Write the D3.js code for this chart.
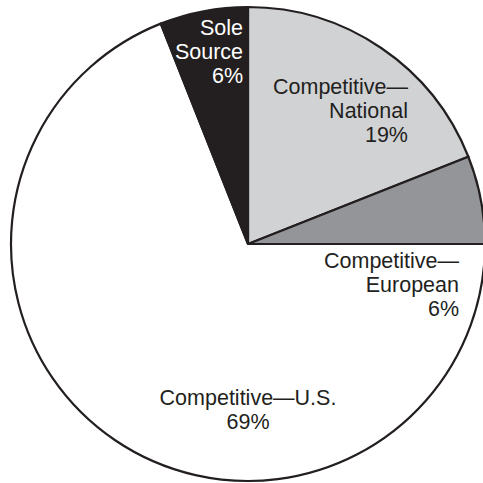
<!DOCTYPE html>
<html>
<head>
<meta charset="utf-8">
<script src="https://d3js.org/d3.v7.min.js"></script>
<style>
  html, body { margin: 0; padding: 0; background: #fff; }
  svg { display: block; }
</style>
</head>
<body>
<div id="chart"></div>
<script>
// Data
const categories = ["Competitive—National", "Competitive—European", "Competitive—U.S.", "Sole Source"];
const labelLines = [["Competitive—", "National", "19%"], ["Competitive—", "European", "6%"], ["Competitive—U.S.", "69%"], ["Sole", "Source", "6%"]];
const values = [19, 6, 69, 6];
const colors = ["#d1d2d4", "#939598", "#ffffff", "#231f20"];
const textColors = ["#231f20", "#231f20", "#231f20", "#ffffff"];

const W = 483, H = 483;
const cx = 248, cy = 244, R = 237;

const svg = d3.select("#chart").append("svg")
  .attr("width", W).attr("height", H)
  .style("font-family", "'Liberation Sans', Arial, Helvetica, sans-serif");

const g = svg.append("g").attr("transform", `translate(${cx},${cy})`);

const pie = d3.pie().sort(null).value(d => d).startAngle(0).endAngle(2 * Math.PI);
const arcs = pie(values);
const arc = d3.arc().innerRadius(0).outerRadius(R);

g.selectAll("path.slice").data(arcs).enter().append("path")
  .attr("class", "slice")
  .attr("d", arc)
  .attr("fill", (d, i) => colors[i])
  .attr("stroke", "#231f20")
  .attr("stroke-width", 2.2)
  .attr("stroke-linejoin", "miter");

// Label layout (relative to pie centre)
const lineH = 23.8;
const fontSize = 21.5;
const labelAnchor = ["end", "end", "middle", "end"];
const labelFirstBaseline = [94 - cy, 268 - cy, 405 - cy, 35 - cy];
const labelX = [408 - cx, 459 - cx, 0, -5];

const labels = g.selectAll("text.lbl").data(arcs).enter().append("text")
  .attr("class", "lbl")
  .attr("font-size", fontSize)
  .attr("fill", (d, i) => textColors[i])
  .attr("text-anchor", (d, i) => labelAnchor[i]);

labels.each(function(d, i) {
  const t = d3.select(this);
  labelLines[i].forEach((ln, j) => {
    t.append("tspan")
      .attr("x", labelX[i])
      .attr("y", labelFirstBaseline[i] + j * lineH)
      .text(ln);
  });
});
</script>
</body>
</html>
